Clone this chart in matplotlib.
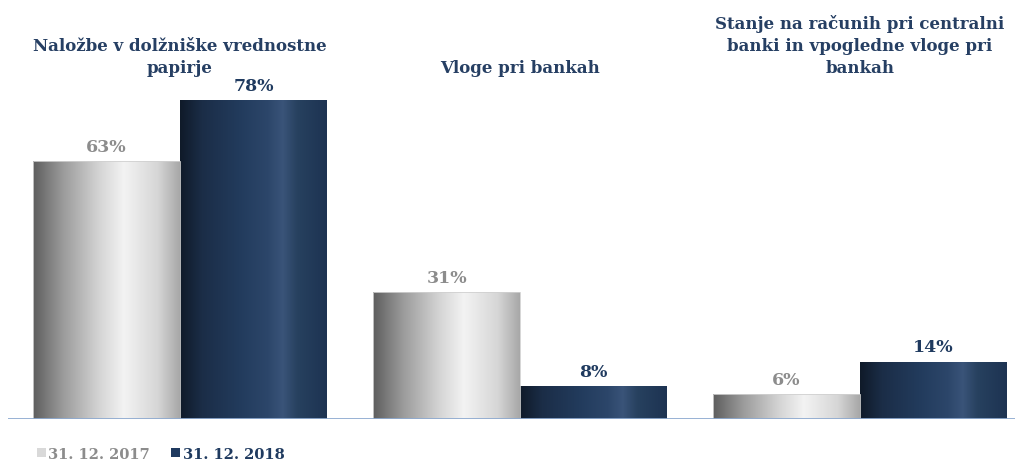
import numpy as np
import matplotlib
matplotlib.use("Agg")
import matplotlib.pyplot as plt
from matplotlib.colors import LinearSegmentedColormap
from matplotlib.patches import Rectangle

categories = ["Naložbe v dolžniške vrednostne\npapirje",
              "Vloge pri bankah",
              "Stanje na računih pri centralni\nbanki in vpogledne vloge pri\nbankah"]
val_2017 = [63, 31, 6]
val_2018 = [78, 8, 14]
series = ["31. 12. 2017", "31. 12. 2018"]

navy = "#1f3a5f"
title_col = "#263f63"
gray_txt = "#8c8c8c"

gray_cmap = LinearSegmentedColormap.from_list(
    "g", [(0, "#5e5e5e"), (0.2, "#9a9a9a"), (0.45, "#d4d4d4"), (0.62, "#f3f3f3"),
          (0.85, "#d6d6d6"), (1.0, "#a8a8a8")])
navy_cmap = LinearSegmentedColormap.from_list(
    "n", [(0, "#0f1a29"), (0.15, "#1b2d47"), (0.4, "#223b5c"), (0.6, "#2c466a"),
          (0.7, "#3a5479"), (0.8, "#27415f"), (1.0, "#1d3352")])

plt.rcParams['font.family'] = ['DejaVu Serif']

fig = plt.figure(figsize=(10.15, 4.61), dpi=100)
ax = fig.add_axes([8/1015, 42/461, 1007/1015, 419/461])

x = np.arange(len(categories))
w = 0.432
b1 = ax.bar(x - w/2, val_2017, w, color="none", edgecolor="#d0d0d0", linewidth=0.6, zorder=2)
b2 = ax.bar(x + w/2, val_2018, w, color="none", edgecolor="none", zorder=2)

grad = np.linspace(0, 1, 256).reshape(1, -1)
for bars, cmap in [(b1, gray_cmap), (b2, navy_cmap)]:
    for p in bars:
        x0, y0 = p.get_x(), p.get_y()
        im = ax.imshow(grad, cmap=cmap, aspect="auto", zorder=1,
                       extent=[x0, x0 + p.get_width(), y0, y0 + p.get_height()])
        im.set_clip_path(p)

for xi, v in zip(x, val_2017):
    ax.text(xi - w/2, v + 1.3, f"{v}%", ha="center", va="bottom",
            fontsize=12.5, fontweight="bold", color=gray_txt)
for xi, v in zip(x, val_2018):
    ax.text(xi + w/2, v + 1.3, f"{v}%", ha="center", va="bottom",
            fontsize=12.5, fontweight="bold", color=navy)

for xi, c in zip(x, categories):
    ax.text(xi, 83.5, c, ha="center", va="bottom", fontsize=12,
            fontweight="bold", color=title_col, linespacing=1.4)

ax.set_xlim(-0.506, 2.456)
ax.set_ylim(0, 102.4)
ax.axhline(0, color="#8eaad0", linewidth=2, zorder=3)
ax.axis("off")

# legend
fig.patches.append(Rectangle((37/1015, 4/461), 9/1015, 9/461, transform=fig.transFigure,
                             facecolor="#d9d9d9", edgecolor="none"))
fig.text(48/1015, 2/461, series[0], fontsize=10.5, fontweight="bold", color=gray_txt)
fig.patches.append(Rectangle((171/1015, 4/461), 9/1015, 9/461, transform=fig.transFigure,
                             facecolor=navy, edgecolor="none"))
fig.text(183/1015, 2/461, series[1], fontsize=10.5, fontweight="bold", color=navy)

fig.savefig("out.png", dpi=100)
